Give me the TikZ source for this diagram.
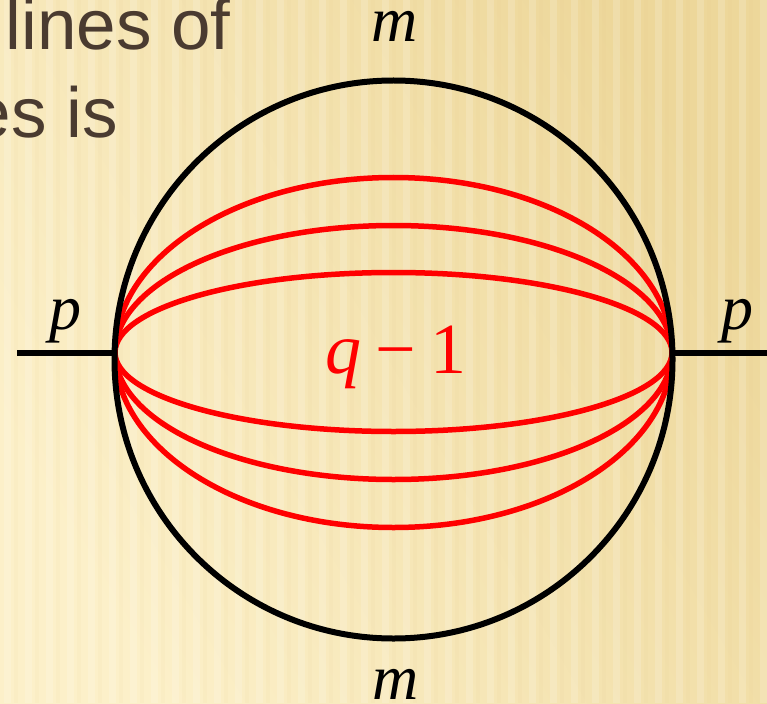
\documentclass[tikz,border=0pt]{standalone}
\usepackage{fontspec}
\setmainfont{Liberation Serif}
\newfontfamily\slidefont{Liberation Sans}
\definecolor{bgA}{HTML}{FCF0C9}
\definecolor{bgB}{HTML}{EDD79A}
\definecolor{txtbrown}{HTML}{4A3B30}
\definecolor{redline}{HTML}{FF0000}
\tikzset{
  blackline/.style={draw=black, line width=6pt},
  redarc/.style={draw=redline, line width=5.5pt},
  mathlabel/.style={font=\fontsize{64}{70}\selectfont\itshape, text=black, inner sep=0pt, anchor=base},
  slidetext/.style={font=\slidefont\fontsize{71}{80}\selectfont, text=txtbrown, inner sep=0pt, anchor=base east},
}
\begin{document}
\begin{tikzpicture}[x=1pt,y=-1pt]
\useasboundingbox (0,0) rectangle (767,703);
\begin{scope}
\clip (0,0) rectangle (767,703);
\shade[left color=bgA, right color=bgB, shading angle=120] (0,0) rectangle (767,703);
\foreach \i in {0,...,36}{
  \fill[white, opacity=0.16] ({\i*21+4},0) rectangle ({\i*21+11},703);
  \fill[bgB!80!brown, opacity=0.07] ({\i*21+14},0) rectangle ({\i*21+18},703);
}
\end{scope}
% partial slide text
\node[slidetext] (t1) at (231,50) {lines of};
\node[slidetext] (t2) at (118,138) {es is};
% junction coordinates
\coordinate (L) at (115,352.5);
\coordinate (R) at (672,352.5);
\coordinate (LE) at (17,352.5);
\coordinate (RE) at (767,352.5);
% red arcs (half ellipses)
\foreach \r in {175,127,80}{
  \draw[redarc] (R) arc[start angle=0, end angle=180, x radius=278.5, y radius=-\r];
}
\foreach \r in {79,127,175}{
  \draw[redarc] (R) arc[start angle=0, end angle=-180, x radius=278.5, y radius=-\r];
}
% black circle
\draw[blackline] (393.5,359.5) circle[radius=279];
\draw[blackline] (LE) -- (L);
\draw[blackline] (R) -- (RE);
% labels
\node[mathlabel] (mt) at (395,42) {m};
\node[mathlabel] (mb) at (396,699) {m};
\node[mathlabel] (pl) at (65,329) {p};
\node[mathlabel] (pr) at (737,329) {p};
\node[font=\fontsize{72}{76}\selectfont, text=redline, inner sep=0pt, anchor=base] (q) at (396,373) {\textit{q}\hspace{0.2em}−\hspace{0.2em}1};
\end{tikzpicture}
\end{document}
